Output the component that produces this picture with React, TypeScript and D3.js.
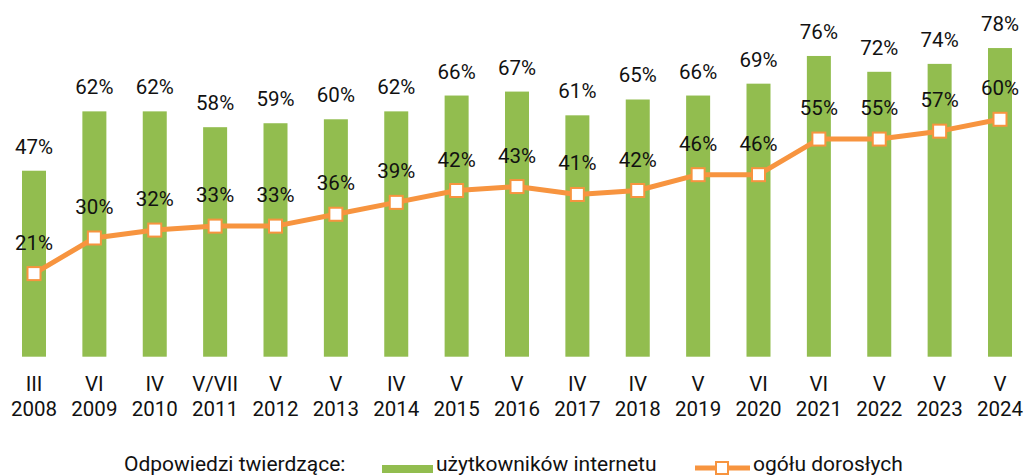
import React from "react";
import * as d3 from "d3";

const months = ["III", "VI", "IV", "V/VII", "V", "V", "IV", "V", "V", "IV", "IV", "V", "VI", "VI", "V", "V", "V"];
const years = ["2008", "2009", "2010", "2011", "2012", "2013", "2014", "2015", "2016", "2017", "2018", "2019", "2020", "2021", "2022", "2023", "2024"];
const internetUsers = [47, 62, 62, 58, 59, 60, 62, 66, 67, 61, 65, 66, 69, 76, 72, 74, 78];
const allAdults = [21, 30, 32, 33, 33, 36, 39, 42, 43, 41, 42, 46, 46, 55, 55, 57, 60];

const legendTitle = "Odpowiedzi twierdzące:";
const seriesNames = ["użytkowników internetu", "ogółu dorosłych"];

const GREEN = "#92bd4f";
const ORANGE = "#f7943f";
const FONT = "Roboto, 'Noto Sans', sans-serif";
const TXT = "#111";

export default function App() {
  const W = 1024;
  const H = 475;
  const idx = years.map((_, i) => i);
  const x = d3.scalePoint<number>().domain(idx).range([34, 1000]);
  const y = d3.scaleLinear().domain([0, 100]).range([356.7, -39]);
  const barW = 24;
  const fs = 20.5;

  const line = d3
    .line<number>()
    .x((_, i) => x(i)!)
    .y((d) => y(d));

  return (
    <svg
      width={W}
      height={H}
      style={{ position: "absolute", left: 0, top: 0, display: "block" }}
      fontFamily={FONT}
    >
      <rect x={0} y={0} width={W} height={H} fill="#fff" />
      {internetUsers.map((v, i) => (
        <rect
          key={"b" + i}
          x={x(i)! - barW / 2}
          y={y(v)}
          width={barW}
          height={y(0) - y(v)}
          fill={GREEN}
        />
      ))}
      {internetUsers.map((v, i) => (
        <text key={"bl" + i} x={x(i)!} y={y(v) - 17} textAnchor="middle" fontSize={fs} fill={TXT}>
          {v}%
        </text>
      ))}
      <path d={line(allAdults) || ""} fill="none" stroke={ORANGE} strokeWidth={5} strokeLinejoin="round" />
      {allAdults.map((v, i) => (
        <rect
          key={"m" + i}
          x={x(i)! - 6.5}
          y={y(v) - 6.5}
          width={13}
          height={13}
          fill="#fff"
          stroke={ORANGE}
          strokeWidth={2}
        />
      ))}
      {allAdults.map((v, i) => (
        <text key={"ll" + i} x={x(i)!} y={y(v) - 24} textAnchor="middle" fontSize={fs} fill={TXT}>
          {v}%
        </text>
      ))}
      {years.map((yr, i) => (
        <g key={"t" + i}>
          <text x={x(i)!} y={390.5} textAnchor="middle" fontSize={fs} fill={TXT}>
            {months[i]}
          </text>
          <text x={x(i)!} y={415.5} textAnchor="middle" fontSize={fs} fill={TXT}>
            {yr}
          </text>
        </g>
      ))}
      <g>
        <text x={124} y={470.5} fontSize={21} fill={TXT}>
          {legendTitle}
        </text>
        <rect x={382} y={465} width={51} height={8} fill={GREEN} />
        <text x={436} y={470.5} fontSize={21} fill={TXT}>
          {seriesNames[0]}
        </text>
        <line x1={695} x2={750} y1={468} y2={468} stroke={ORANGE} strokeWidth={5} />
        <rect x={716} y={462} width={12} height={12} fill="#fff" stroke={ORANGE} strokeWidth={2} />
        <text x={753} y={470.5} fontSize={21} fill={TXT}>
          {seriesNames[1]}
        </text>
      </g>
    </svg>
  );
}
